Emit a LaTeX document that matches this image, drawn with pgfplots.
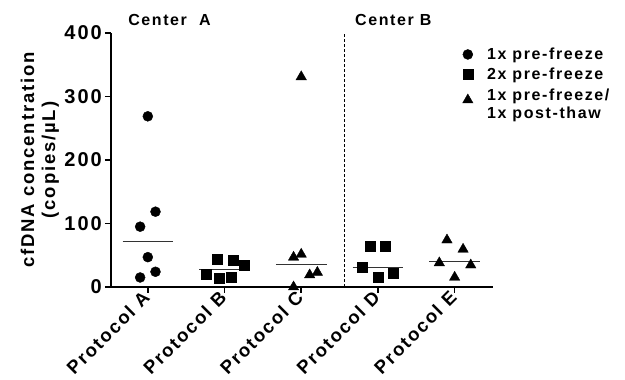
\documentclass[border=0pt]{standalone}
\usepackage{fontspec}
\setmainfont{Liberation Sans}[LetterSpace=10]
\usepackage{pgfplots}
\pgfplotsset{compat=1.18}
\begin{document}
\begin{tikzpicture}
\path[use as bounding box] (-111pt,-93pt) rectangle (514pt,287pt);
\begin{axis}[
  at={(0,0)}, anchor=south west,
  scale only axis, width=382pt, height=254pt,
  xmin=-0.48, xmax=4.5, ymin=0, ymax=400,
  clip=false,
  axis lines=left,
  axis line style={-, line width=1.6pt},
  tick style={line width=1.6pt, black},
  tick align=outside, major tick length=6pt,
  xtick={0,1,2,3,4},
  xticklabels={Protocol A,Protocol B,Protocol C,Protocol D,Protocol E},
  ytick={0,100,200,300,400},
  /pgf/number format/assume math mode=true,
  yticklabel style={font=\fontsize{20}{22}\selectfont\bfseries, inner sep=3pt},
  xticklabel style={font=\fontsize{18.5}{20}\selectfont\bfseries, rotate=45, anchor=east, inner sep=2pt},
  ylabel={cfDNA concentration\\(copies/µL)},
  ylabel style={align=center, font=\fontsize{18.5}{21}\selectfont\bfseries, yshift=-1pt},
  legend style={at={(rel axis cs:0.92,0.95)}, anchor=north west, draw=none, fill=none,
    font=\fontsize{16}{18}\selectfont\bfseries, row sep=3pt, column sep=12pt,
    inner sep=0pt},
  legend cell align=left,
]
\addplot[only marks, mark=*, mark size=5pt, black] coordinates {
 (0,268.8) (0.1,118.6) (-0.1,95) (0,47) (0.1,24) (-0.1,15)};
\addlegendentry{1x pre-freeze}
\addplot[only marks, mark=square*, mark size=5pt, black] coordinates {
 (0.91,43.6) (1.11,41.5) (1.26,34.6) (0.76,20) (0.93,13.7) (1.09,14.7)
 (2.9,65) (3.1,63.5) (2.8,31) (3,15.3) (3.2,22.5)};
\addlegendentry{2x pre-freeze}
\addplot[only marks, mark=triangle*, mark size=6pt, black] coordinates {
 (2,331) (1.9,46.8) (2,51.5) (2.11,19) (2.21,23) (1.9,0)
 (3.9,74) (4.11,59.4) (3.8,38) (4.21,34.6) (4,15.3)};
\addlegendentry{{\begin{tabular}{@{}l@{}}1x pre-freeze/\\1x post-thaw\end{tabular}}}
\addplot[forget plot, black!80, line width=1pt] coordinates {(-0.33,71) (0.33,71)};
\addplot[forget plot, black!80, line width=1pt] coordinates {(0.67,27) (1.33,27)};
\addplot[forget plot, black!80, line width=1pt] coordinates {(1.67,36) (2.33,36)};
\addplot[forget plot, black!80, line width=1pt] coordinates {(2.67,31) (3.33,31)};
\addplot[forget plot, black!80, line width=1pt] coordinates {(3.67,40) (4.33,40)};
\addplot[forget plot, black, line width=1pt, dash pattern=on 3pt off 2pt] coordinates {(2.57,0) (2.57,400)};
\node[anchor=base west, font=\fontsize{16}{18}\selectfont\bfseries] at (rel axis cs:0.036,1) [yshift=8pt] {Center\ \ A};
\node[anchor=base west, font=\fontsize{16}{18}\selectfont\bfseries] at (rel axis cs:0.63,1) [yshift=8pt] {Center B};
\end{axis}
\end{tikzpicture}
\end{document}
